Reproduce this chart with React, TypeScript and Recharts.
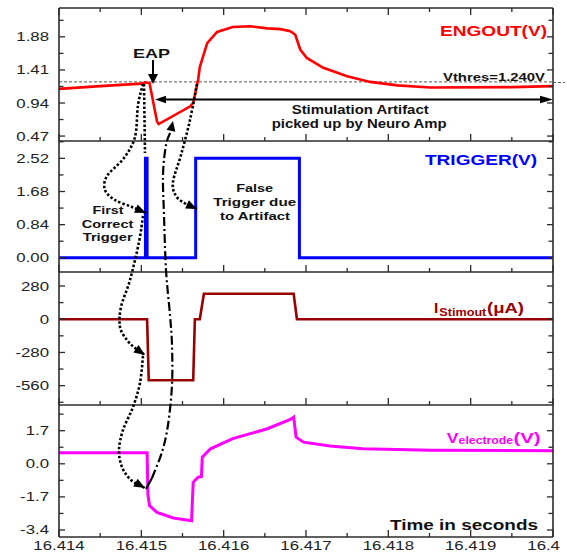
import React from 'react';
import { LineChart, Line, XAxis, YAxis, ReferenceLine } from 'recharts';

// ---------------- data ----------------
const engTime = [16.414, 16.4145, 16.415, 16.41505, 16.4151, 16.41519, 16.41521, 16.41559, 16.41563, 16.41569, 16.41571, 16.4158, 16.41592, 16.41611, 16.41632, 16.41653, 16.41669, 16.41681, 16.41687, 16.41693, 16.41701, 16.41721, 16.4175, 16.41778, 16.41811, 16.41851, 16.4195, 16.42];
const engVolts = [1.14, 1.18, 1.215, 1.235, 1.22, 0.68, 0.64, 0.89, 0.94, 1.27, 1.45, 1.79, 1.95, 2.02, 2.03, 2.0, 1.99, 1.96, 1.91, 1.7, 1.58, 1.44, 1.32, 1.24, 1.19, 1.16, 1.165, 1.18];

const trigTime = [16.414, 16.41505, 16.41505, 16.41507, 16.41507, 16.41566, 16.41566, 16.41692, 16.41692, 16.42];
const trigVolts = [0, 0, 2.52, 2.52, 0, 0, 2.52, 2.52, 0, 0];

const istTime = [16.414, 16.41507, 16.41509, 16.41563, 16.41565, 16.41571, 16.41576, 16.41685, 16.41689, 16.42];
const istMicroA = [0, 0, -515, -515, 0, 0, 215, 215, 0, 0];

const velTime = [16.414, 16.41507, 16.41508, 16.4151, 16.41519, 16.41539, 16.41561, 16.41563, 16.41569, 16.41573, 16.41574, 16.41584, 16.41611, 16.41653, 16.41681, 16.41685, 16.41688, 16.41697, 16.41729, 16.41769, 16.41851, 16.42];
const velVolts = [0.57, 0.57, -1.6, -2.15, -2.5, -2.78, -2.92, -0.95, -0.69, -0.65, 0.34, 0.77, 1.29, 1.8, 2.28, 2.4, 1.37, 1.11, 0.91, 0.77, 0.69, 0.67];

const vThreshold = 1.24;

// ---------------- ticks ----------------
const xMajorTicks = [16.414, 16.415, 16.416, 16.417, 16.418, 16.419, 16.42];
const xMajorLabels = ['16.414', '16.415', '16.416', '16.417', '16.418', '16.419', '16.4'];
const xMinorTicks = [16.4145, 16.4155, 16.4165, 16.4175, 16.4185, 16.4195];

const engMajor = [0.47, 0.94, 1.41, 1.88];
const engLabels = ['0.47', '0.94', '1.41', '1.88'];
const engMinor = [0.705, 1.175, 1.645, 2.115];

const trigMajor = [0, 0.84, 1.68, 2.52];
const trigLabels = ['0.00', '0.84', '1.68', '2.52'];
const trigMinor = [0.42, 1.26, 2.1, 2.94];

const istMajor = [-560, -280, 0, 280];
const istLabels = ['-560', '-280', '0', '280'];
const istMinor = [-700, -420, -140, 140];

const velMajor = [-3.4, -1.7, 0, 1.7];
const velLabels = ['-3.4', '-1.7', '0.0', '1.7'];
const velMinor = [-2.55, -0.85, 0.85, 2.55];

// ---------------- layout ----------------
const W = 567;
const H = 552;
const PLOT_LEFT = 59;
const PLOT_RIGHT = 553;
const PANEL_TOPS = [8, 141, 272, 405];
const PANEL_BOTTOMS = [141, 272, 405, 537];
const FONT = '"Liberation Sans", Arial, Helvetica, sans-serif';
const AXIS = '#2b2b2b';

const zip = (t: number[], v: number[]) => t.map((x, i) => ({ t: x, v: v[i] }));

const panels = [
  { data: zip(engTime, engVolts), color: '#ff0000', width: 2.6, domain: [0.4, 2.29], major: engMajor, labels: engLabels, minor: engMinor },
  { data: zip(trigTime, trigVolts), color: '#0000ff', width: 3, domain: [-0.36, 2.96], major: trigMajor, labels: trigLabels, minor: trigMinor },
  { data: zip(istTime, istMicroA), color: '#990000', width: 2.6, domain: [-723, 398], major: istMajor, labels: istLabels, minor: istMinor },
  { data: zip(velTime, velVolts), color: '#ff00ff', width: 3, domain: [-3.76, 3.02], major: velMajor, labels: velLabels, minor: velMinor },
];

const idxOf = (arr: number[], v: number) => arr.findIndex((m) => Math.abs(m - v) < 1e-7);

const makeLeftTick = (major: number[], labels: string[]) => (p: any) => {
  const i = idxOf(major, p.payload.value);
  const isMajor = i >= 0;
  return (
    <g>
      <line x1={p.x} x2={p.x + (isMajor ? 6 : 4.5)} y1={p.y} y2={p.y} stroke={AXIS} strokeWidth={1.3} />
      {isMajor && (
        <text transform={`translate(${p.x - 10},${p.y + 4.5}) scale(1.4,1)`} textAnchor="end" fontSize={12} fontFamily={FONT} fill="#222">
          {labels[i]}
        </text>
      )}
    </g>
  );
};

const makeRightTick = (major: number[]) => (p: any) => {
  const isMajor = idxOf(major, p.payload.value) >= 0;
  return <line x1={p.x} x2={p.x - (isMajor ? 6 : 4.5)} y1={p.y} y2={p.y} stroke={AXIS} strokeWidth={1.3} />;
};

const makeBottomTick = (showLabels: boolean) => (p: any) => {
  const i = idxOf(xMajorTicks, p.payload.value);
  const isMajor = i >= 0;
  const isLastLabel = i === xMajorTicks.length - 1;
  return (
    <g>
      <line x1={p.x} x2={p.x} y1={p.y} y2={p.y - (isMajor ? 7 : 4)} stroke={AXIS} strokeWidth={1.3} />
      {showLabels && isMajor && (
        <text
          transform={`translate(${isLastLabel ? p.x - 25.7 : p.x},${p.y + 13}) scale(1.4,1)`}
          textAnchor={isLastLabel ? 'start' : 'middle'}
          fontSize={12}
          fontFamily={FONT}
          fill="#222"
        >
          {xMajorLabels[i]}
        </text>
      )}
    </g>
  );
};

const topTick = (p: any) => {
  const isMajor = idxOf(xMajorTicks, p.payload.value) >= 0;
  return <line x1={p.x} x2={p.x} y1={p.y} y2={p.y + (isMajor ? 7 : 4)} stroke={AXIS} strokeWidth={1.3} />;
};

const xTicks = [...xMajorTicks, ...xMinorTicks].sort((a, b) => a - b);

function Panel({ idx }: { idx: number }) {
  const cfg = panels[idx];
  const top = PANEL_TOPS[idx];
  const bottom = PANEL_BOTTOMS[idx];
  const hasTop = idx === 0;
  const isLast = idx === 3;
  const margin = {
    top: hasTop ? top - 5 : top,
    bottom: H - bottom - 5,
    left: PLOT_LEFT - 10,
    right: W - PLOT_RIGHT - 5,
  };
  const yTicks = [...cfg.major, ...cfg.minor].sort((a, b) => a - b);
  const axisLine = { stroke: AXIS, strokeWidth: 1.6 };
  return (
    <div style={{ position: 'absolute', left: 0, top: 0, width: W, height: H }}>
      <LineChart width={W} height={H} data={cfg.data} margin={margin}>
        <XAxis
          xAxisId="b"
          dataKey="t"
          type="number"
          domain={[16.414, 16.42]}
          allowDataOverflow
          ticks={xTicks}
          interval={0}
          height={5}
          tickSize={0}
          tickMargin={0}
          tickLine={false}
          axisLine={axisLine}
          tick={makeBottomTick(isLast)}
        />
        {hasTop && (
          <XAxis
            xAxisId="top"
            orientation="top"
            dataKey="t"
            type="number"
            domain={[16.414, 16.42]}
            allowDataOverflow
            ticks={xTicks}
            interval={0}
            height={5}
            tickSize={0}
            tickMargin={0}
            tickLine={false}
            axisLine={axisLine}
            tick={topTick}
          />
        )}
        <YAxis
          yAxisId="l"
          type="number"
          domain={cfg.domain}
          allowDataOverflow
          ticks={yTicks}
          interval={0}
          width={10}
          tickSize={0}
          tickMargin={0}
          tickLine={false}
          axisLine={axisLine}
          tick={makeLeftTick(cfg.major, cfg.labels)}
        />
        <YAxis
          yAxisId="r"
          orientation="right"
          type="number"
          domain={cfg.domain}
          allowDataOverflow
          ticks={yTicks}
          interval={0}
          width={5}
          tickSize={0}
          tickMargin={0}
          tickLine={false}
          axisLine={axisLine}
          tick={makeRightTick(cfg.major)}
        />
        {idx === 0 && (
          <ReferenceLine xAxisId="b" yAxisId="l" y={vThreshold} stroke="#555" strokeWidth={1} strokeDasharray="3 2" />
        )}
        <Line
          xAxisId="b"
          yAxisId="l"
          type="linear"
          dataKey="v"
          stroke={cfg.color}
          strokeWidth={cfg.width}
          dot={false}
          activeDot={false}
          isAnimationActive={false}
        />
      </LineChart>
    </div>
  );
}

// ---------------- annotation overlay ----------------
type P = [number, number];
function smooth(pts: P[]): string {
  let d = `M${pts[0][0]},${pts[0][1]}`;
  for (let i = 0; i < pts.length - 1; i++) {
    const p0 = pts[i - 1] || pts[i];
    const p1 = pts[i];
    const p2 = pts[i + 1];
    const p3 = pts[i + 2] || p2;
    const c1 = [p1[0] + (p2[0] - p0[0]) / 6, p1[1] + (p2[1] - p0[1]) / 6];
    const c2 = [p2[0] - (p3[0] - p1[0]) / 6, p2[1] - (p3[1] - p1[1]) / 6];
    d += ` C${c1[0]},${c1[1]} ${c2[0]},${c2[1]} ${p2[0]},${p2[1]}`;
  }
  return d;
}
function head(from: P, tip: P, len = 11, half = 4.5): string {
  const dx = tip[0] - from[0];
  const dy = tip[1] - from[1];
  const n = Math.hypot(dx, dy) || 1;
  const ux = dx / n;
  const uy = dy / n;
  const bx = tip[0] - ux * len;
  const by = tip[1] - uy * len;
  return `M${tip[0]},${tip[1]} L${bx - uy * half},${by + ux * half} L${bx + uy * half},${by - ux * half} Z`;
}

const curveA: P[] = [[143, 84], [138, 105], [135, 137], [124, 158], [107, 176], [105, 190], [115, 200], [132, 207], [146, 213]];
const curveB: P[] = [[143, 216], [139, 242], [130, 280], [121, 307], [120, 327], [127, 340], [135, 348], [145, 355]];
const curveC: P[] = [[143, 356], [140, 383], [133, 407], [123, 430], [119, 450], [122, 467], [131, 480], [145, 488]];
const curveD: P[] = [[197, 84], [190, 120], [181, 155], [173, 182], [176, 196], [186, 204], [197, 209]];
const curveE: P[] = [[152, 478], [162, 452], [168, 425], [172, 385], [172, 345], [170, 315], [166, 270], [164, 215], [163, 175], [166, 145], [171, 131]];

const Txt = ({ x, y, w, size, color = '#111', children }: any) => (
  <text x={x} y={y} fontSize={size} fontWeight="bold" fill={color} fontFamily={FONT} textLength={w} lengthAdjust="spacingAndGlyphs">
    {children}
  </text>
);

function Overlay() {
  const dotted = { fill: 'none', stroke: '#000', strokeWidth: 2.6, strokeDasharray: '2.5 2' };
  const dashDot = { fill: 'none', stroke: '#000', strokeWidth: 2.2, strokeDasharray: '9 3 2 3' };
  const tipOf = (c: P[]) => c[c.length - 1];
  const prevOf = (c: P[]) => c[c.length - 2];
  return (
    <svg width={W} height={H} style={{ position: 'absolute', left: 0, top: 0, pointerEvents: 'none' }}>
      {/* threshold extension */}
      <line x1={PLOT_RIGHT} x2={565} y1={82.5} y2={82.5} stroke="#555" strokeWidth={1} strokeDasharray="3 2" />
      {/* EAP arrow */}
      <line x1={153} x2={153} y1={60} y2={76} stroke="#000" strokeWidth={2} />
      <path d={head([153, 60], [153, 84], 10, 5)} fill="#000" />
      {/* double arrow */}
      <line x1={163} x2={542} y1={99.5} y2={99.5} stroke="#000" strokeWidth={2} />
      <path d={head([170, 99.5], [155, 99.5], 11, 3.8)} fill="#000" />
      <path d={head([530, 99.5], [553, 99.5], 13, 3.8)} fill="#000" />
      {/* dotted curves */}
      <path d={smooth(curveA)} {...dotted} />
      <path d={head(prevOf(curveA), tipOf(curveA))} fill="#000" />
      <line x1={144} x2={145} y1={84} y2={153} {...dotted} />
      <path d={smooth(curveB)} {...dotted} />
      <path d={head(prevOf(curveB), tipOf(curveB))} fill="#000" />
      <path d={smooth(curveC)} {...dotted} />
      <path d={head(prevOf(curveC), tipOf(curveC))} fill="#000" />
      <path d={smooth(curveD)} {...dotted} />
      <path d={head(prevOf(curveD), tipOf(curveD))} fill="#000" />
      {/* dash-dot */}
      <line x1={146} y1={489} x2={152} y2={478} stroke="#000" strokeWidth={2.2} />
      <path d={smooth(curveE)} {...dashDot} />
      <path d={head([170, 135], [173, 121], 10, 4.5)} fill="#000" />

      {/* texts */}
      <Txt x={440} y={36} w={107} size={15} color="#ff0000">ENGOUT(V)</Txt>
      <Txt x={443} y={80.5} w={102} size={11.5}>Vthres=1.240V</Txt>
      <Txt x={291.7} y={113.5} w={137} size={12}>Stimulation Artifact</Txt>
      <Txt x={271.7} y={128} w={175} size={12}>picked up by Neuro Amp</Txt>
      <Txt x={133} y={58.3} w={37} size={13}>EAP</Txt>

      <Txt x={425} y={165} w={112} size={15} color="#0000ff">TRIGGER(V)</Txt>
      <Txt x={236.2} y={192.3} w={37} size={11.5}>False</Txt>
      <Txt x={213.2} y={206.3} w={83} size={11.5}>Trigger due</Txt>
      <Txt x={220} y={220.3} w={70} size={11.5}>to Artifact</Txt>
      <Txt x={92.5} y={214} w={31} size={11.5}>First</Txt>
      <Txt x={81.7} y={228.3} w={51.6} size={11.5}>Correct</Txt>
      <Txt x={82.7} y={240.5} w={50} size={11.5}>Trigger</Txt>

      <Txt x={434} y={312.7} w={4.3} size={15} color="#990000">I</Txt>
      <Txt x={439.3} y={315.5} w={47} size={10.5} color="#990000">Stimout</Txt>
      <Txt x={487} y={312.7} w={37} size={15} color="#990000">(μA)</Txt>

      <Txt x={446.7} y={443} w={11.7} size={15} color="#ff00ff">V</Txt>
      <Txt x={458.6} y={443.5} w={54.5} size={10.5} color="#ff00ff">electrode</Txt>
      <Txt x={513.4} y={443} w={27.3} size={15} color="#ff00ff">(V)</Txt>

      <Txt x={390} y={529.5} w={148} size={15}>Time in seconds</Txt>
    </svg>
  );
}

export default function App() {
  return (
    <div style={{ position: 'absolute', left: 0, top: 0, width: W, height: H, background: '#fff', fontFamily: FONT }}>
      {panels.map((_, i) => (
        <Panel key={i} idx={i} />
      ))}
      <Overlay />
    </div>
  );
}
